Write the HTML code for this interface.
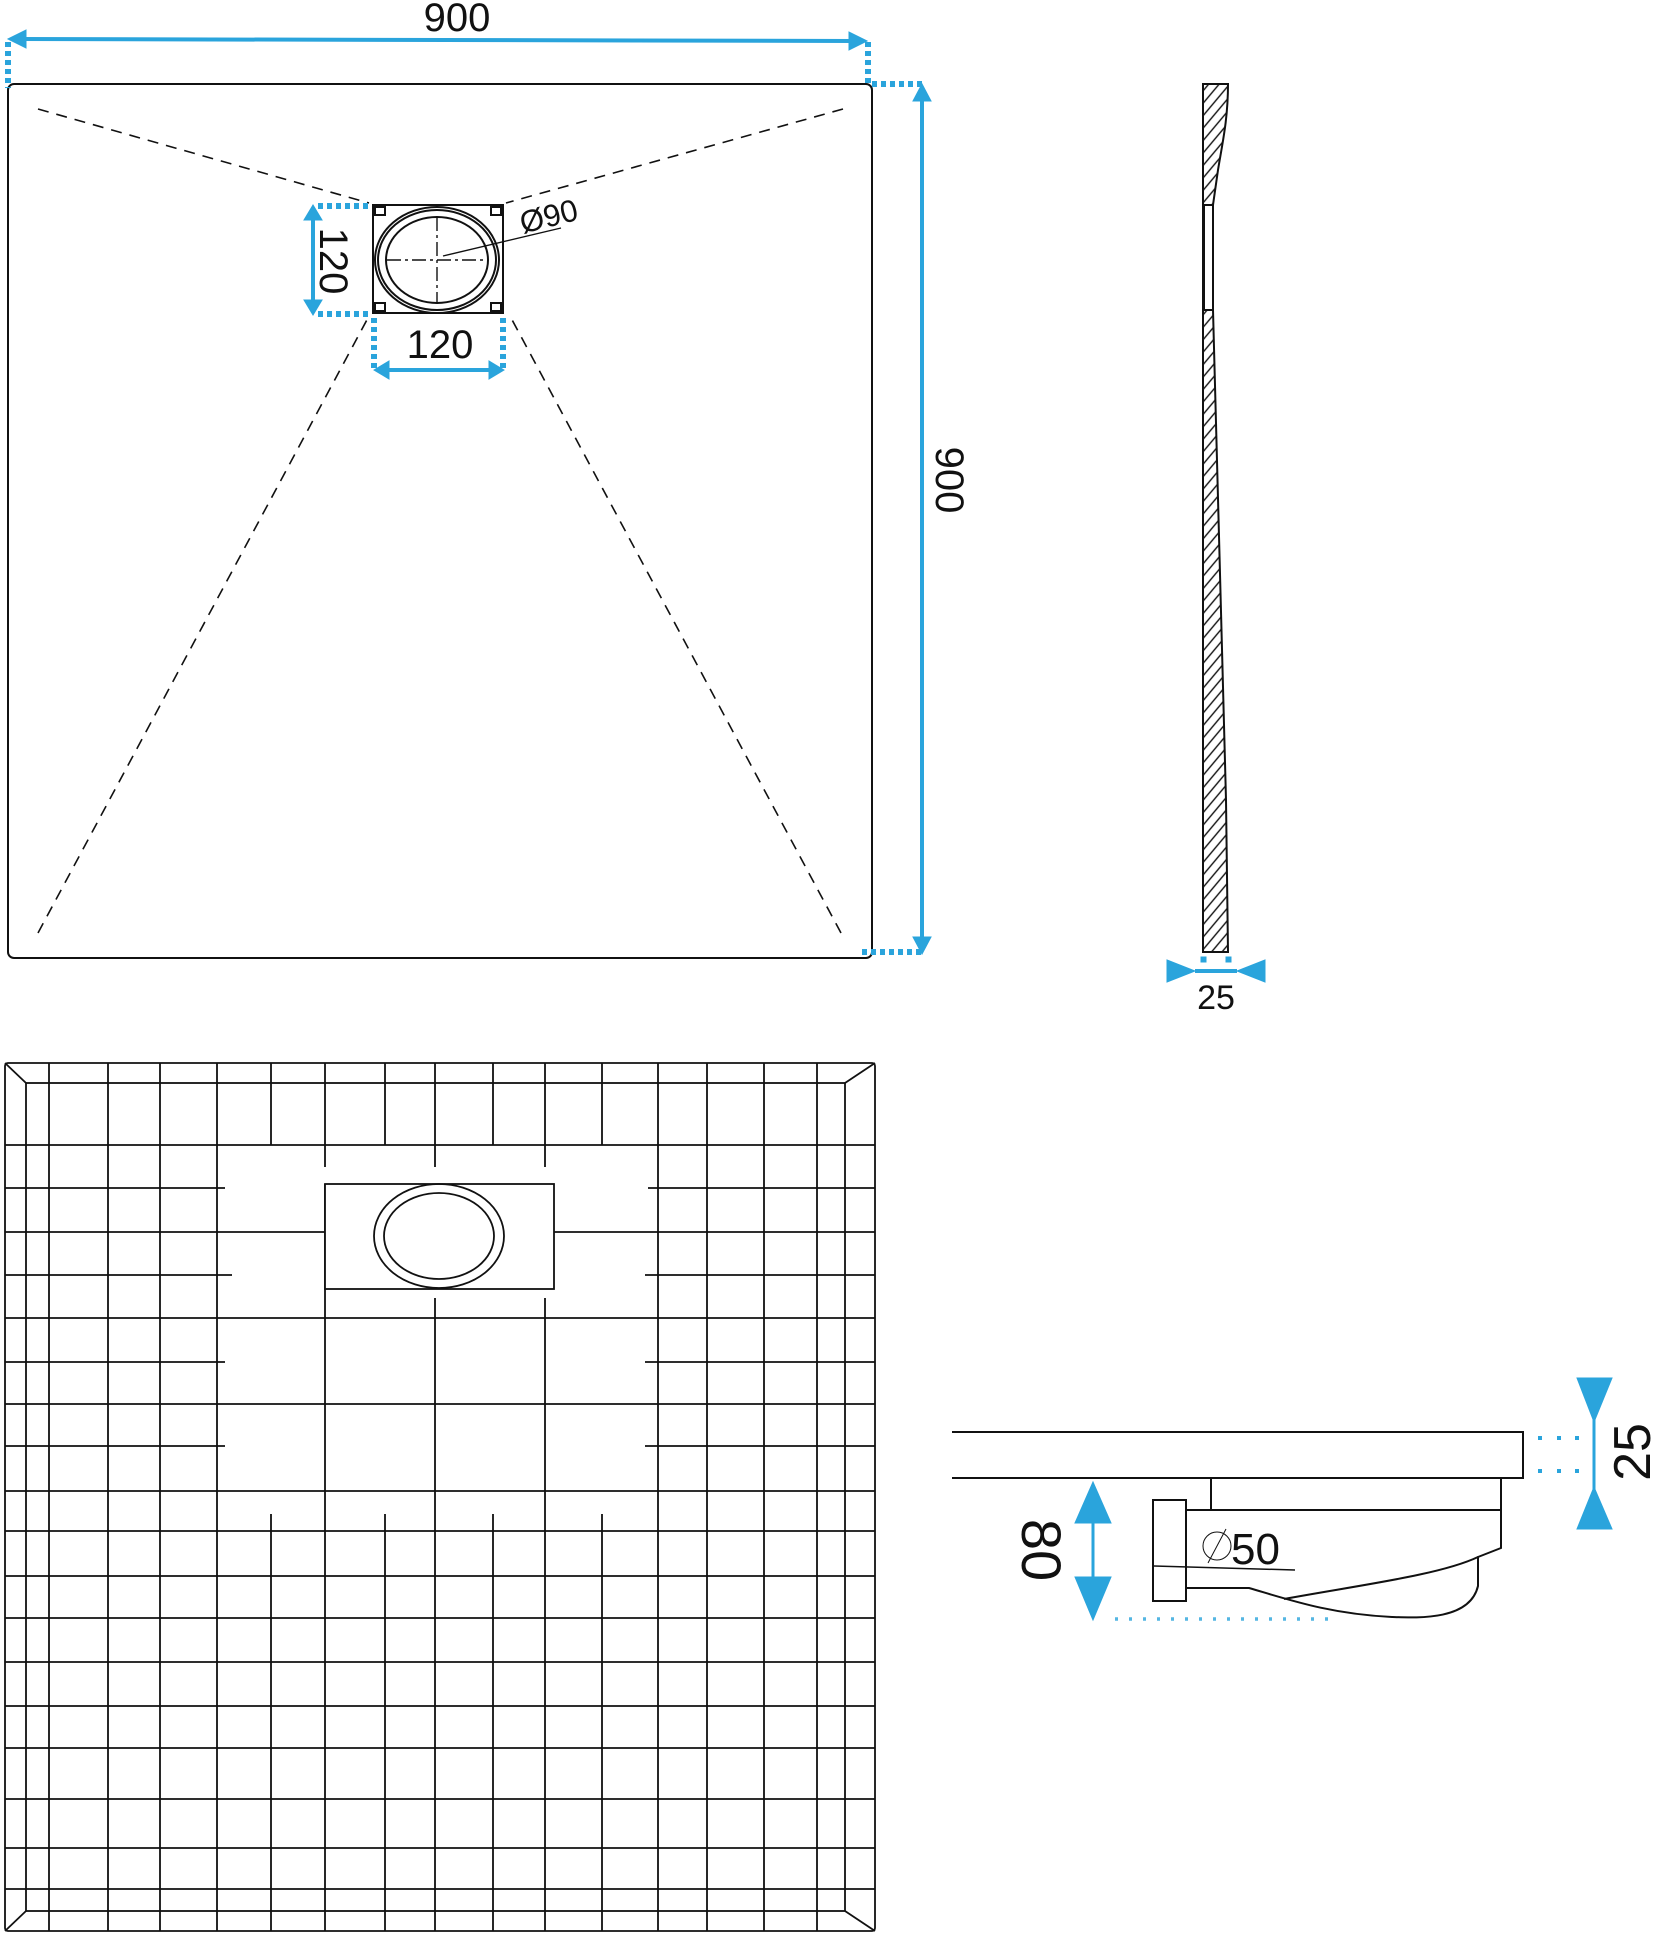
<!DOCTYPE html>
<html><head><meta charset="utf-8"><style>
html,body{margin:0;padding:0;background:#fff}
svg{display:block}
text{font-family:"Liberation Sans","DejaVu Sans",sans-serif;fill:#111}
</style></head><body>
<svg width="1653" height="1933" viewBox="0 0 1653 1933" xmlns="http://www.w3.org/2000/svg">
<defs>
<pattern id="h" width="8" height="8" patternUnits="userSpaceOnUse" patternTransform="rotate(-50)">
<line x1="0" y1="4" x2="8" y2="4" stroke="#111" stroke-width="1.4"/>
</pattern>
</defs>
<g fill="none" stroke="#111" stroke-width="2">
<rect x="8" y="84" width="864" height="874" rx="6"/>
<g stroke-dasharray="11 8" stroke-width="1.6">
<line x1="38" y1="109" x2="369" y2="203"/>
<line x1="843" y1="109" x2="506" y2="203"/>
<line x1="38" y1="933" x2="369" y2="316"/>
<line x1="841" y1="933" x2="510" y2="316"/>
</g>
<rect x="373" y="205" width="130" height="108" fill="#fff"/>
<ellipse cx="437" cy="260" rx="62" ry="53"/>
<ellipse cx="437" cy="260" rx="59" ry="50"/>
<ellipse cx="437" cy="260" rx="51" ry="43"/>
<rect x="375" y="207" width="10" height="8"/><rect x="491" y="207" width="10" height="8"/>
<rect x="375" y="303" width="10" height="8"/><rect x="491" y="303" width="10" height="8"/>
<g stroke-dasharray="14 4 3 4" stroke-width="1.4">
<line x1="387" y1="260" x2="488" y2="260"/><line x1="437" y1="217" x2="437" y2="302"/>
</g>
<line x1="443" y1="256" x2="561" y2="228" stroke-width="1.4"/>
<path d="M1203 84 L1228 84 C1228 120 1222 145 1218 170 L1213 205 L1213 310 L1226 800 L1228 952 L1203 952 Z" fill="url(#h)"/>
<rect x="1204" y="205" width="9" height="105" fill="#fff" stroke="#111"/>
</g>
<text x="520" y="234" font-size="31" transform="rotate(-14 520 222)">Ø90</text>
<g stroke="#2aa4dc" fill="#2aa4dc">
<line x1="20" y1="39" x2="855" y2="41" stroke-width="4"/>
<polygon points="8,39 26,30 26,48"/><polygon points="867,41 849,32 849,50"/>
<g stroke-width="6" stroke-dasharray="5 4" fill="none">
<line x1="8" y1="42" x2="8" y2="88"/><line x1="868" y1="42" x2="868" y2="84"/>
<line x1="872" y1="84" x2="922" y2="84"/><line x1="862" y1="952" x2="922" y2="952"/>
<line x1="318" y1="206" x2="372" y2="206"/><line x1="318" y1="314" x2="372" y2="314"/>
<line x1="374" y1="318" x2="374" y2="370"/><line x1="503" y1="318" x2="503" y2="370"/>
</g>
<line x1="922" y1="100" x2="922" y2="940" stroke-width="4"/>
<polygon points="922,84 913,101 931,101"/><polygon points="922,954 913,937 931,937"/>
<line x1="313" y1="214" x2="313" y2="306" stroke-width="4"/>
<polygon points="313,205 304,220 322,220"/><polygon points="313,315 304,300 322,300"/>
<line x1="384" y1="370" x2="494" y2="370" stroke-width="4"/>
<polygon points="374,370 389,361 389,379"/><polygon points="504,370 489,361 489,379"/>
<line x1="1195" y1="971" x2="1237" y2="971" stroke-width="4"/>
<polygon points="1167,960 1195,971 1167,982"/><polygon points="1265,960 1237,971 1265,982"/>
<rect x="1201" y="957" width="5" height="5"/><rect x="1226" y="957" width="5" height="5"/>
</g>
<text x="457" y="31" font-size="40" text-anchor="middle">900</text>
<text x="0" y="0" font-size="40" text-anchor="middle" transform="translate(936 480) rotate(90)">900</text>
<text x="0" y="0" font-size="40" text-anchor="middle" transform="translate(320 261) rotate(90)">120</text>
<text x="440" y="358" font-size="40" text-anchor="middle">120</text>
<text x="1216" y="1009" font-size="34" text-anchor="middle">25</text>
<g fill="none" stroke="#111" stroke-width="1.8">
<rect x="5" y="1063" width="870" height="868" rx="3"/>
<rect x="26" y="1083" width="819" height="828"/>
<line x1="5" y1="1063" x2="26" y2="1083"/><line x1="875" y1="1063" x2="845" y2="1083"/>
<line x1="5" y1="1931" x2="26" y2="1911"/><line x1="875" y1="1931" x2="845" y2="1911"/>
<path d="M5 1145H875 M5 1318H875 M5 1404H875 M5 1491H875 M5 1531H875 M5 1576H875 M5 1618H875 M5 1662H875 M5 1706H875 M5 1748H875 M5 1799H875 M5 1848H875 M5 1889H875
M5 1188H225 M648 1188H875 M5 1275H232 M645 1275H875 M5 1362H225 M645 1362H875 M5 1446H225 M645 1446H875 M5 1232H325 M554 1232H875"/>
<path d="M49 1063V1931 M108 1063V1931 M160 1063V1931 M217 1063V1931 M658 1063V1931 M707 1063V1931 M764 1063V1931 M817 1063V1931
M271 1063V1145 M271 1514V1931 M385 1063V1145 M385 1514V1931 M493 1063V1145 M493 1514V1931 M602 1063V1145 M602 1514V1931
M325 1063V1167 M325 1184V1931 M435 1063V1167 M435 1298V1931 M545 1063V1167 M545 1298V1931"/>
<rect x="325" y="1184" width="229" height="105" fill="#fff"/>
<ellipse cx="439" cy="1236" rx="65" ry="52"/>
<ellipse cx="439" cy="1236" rx="55" ry="43"/>
</g>
<g fill="none" stroke="#111" stroke-width="2">
<path d="M952 1432 H1523 V1478 H952"/>
<path d="M1211 1478 V1510 M1186 1510 H1501 M1501 1478 V1548 L1478 1557 V1586 C1470 1620 1420 1618 1392 1617 C1330 1614 1290 1600 1249 1588 H1186"/>
<path d="M1284 1599 C1360 1585 1440 1575 1478 1557"/>
<rect x="1153" y="1500" width="33" height="101"/>
<line x1="1154" y1="1566" x2="1295" y2="1570" stroke-width="1.5"/>
<circle cx="1217" cy="1546" r="14" stroke-width="1"/>
<line x1="1208" y1="1563" x2="1226" y2="1529" stroke-width="1"/>
</g>
<text x="1231" y="1564" font-size="44">50</text>
<g stroke="#2aa4dc" fill="#2aa4dc">
<line x1="1093" y1="1510" x2="1093" y2="1595" stroke-width="3"/>
<polygon points="1093,1482 1075,1523 1111,1523"/><polygon points="1093,1620 1075,1577 1111,1577"/>
<line x1="1594" y1="1415" x2="1594" y2="1495" stroke-width="3"/>
<polygon points="1594,1422 1577,1378 1612,1378"/><polygon points="1594,1487 1577,1529 1612,1529"/>
<g stroke="none">
<rect x="1538" y="1436" width="4" height="4"/><rect x="1557" y="1436" width="4" height="4"/><rect x="1575" y="1436" width="4" height="4"/>
<rect x="1538" y="1469" width="4" height="4"/><rect x="1557" y="1469" width="4" height="4"/><rect x="1575" y="1469" width="4" height="4"/>
</g>
<line x1="1115" y1="1619" x2="1330" y2="1619" stroke-width="3.5" stroke-dasharray="3 11" opacity="0.8"/>
</g>
<text x="0" y="0" font-size="56" text-anchor="middle" transform="translate(1022 1550) rotate(90)">80</text>
<text x="0" y="0" font-size="52" text-anchor="middle" transform="translate(1650 1452) rotate(-90)">25</text>
</svg>
</body></html>
